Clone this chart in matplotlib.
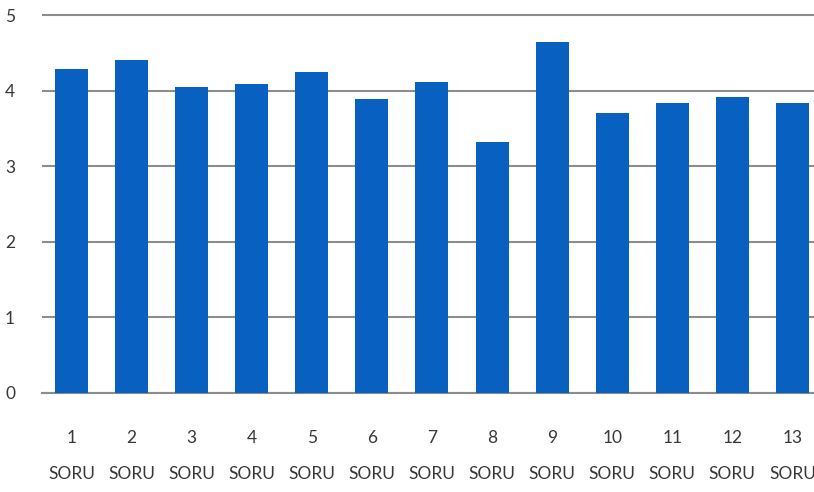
import matplotlib
matplotlib.use("Agg")
import matplotlib.pyplot as plt

# question labels and mean scores
questions = ["1", "2", "3", "4", "5", "6", "7", "8", "9", "10", "11", "12", "13"]
scores = [4.28, 4.40, 4.05, 4.09, 4.24, 3.89, 4.12, 3.32, 4.65, 3.70, 3.83, 3.92, 3.83]
y_ticks = [0, 1, 2, 3, 4, 5]

plt.rcParams['font.family'] = ['Lato', 'DejaVu Sans']

fig = plt.figure(figsize=(8.14, 4.92), dpi=100)
# axes placed so that the chart is cut off at the right edge like the original
ax = fig.add_axes([41.5 / 814, 1 - 392.5 / 492, 1 - 41.5 / 814, 392.5 / 492])

x = range(len(questions))
ax.bar(x, scores, width=0.55, color="#0860C0", zorder=3)

ax.set_xlim(-0.5, 12.36)
ax.set_ylim(0, 5.2)
ax.set_yticks(y_ticks)
ax.set_yticklabels([str(t) for t in y_ticks])
ax.yaxis.grid(True, color="#8c8c8c", linewidth=1.5, zorder=0)
ax.set_axisbelow(True)

ax.set_xticks(list(x))
ax.set_xticklabels([q + "\nSORU" for q in questions])
for lbl in ax.get_xticklabels():
    lbl.set_linespacing(2.55)

ax.tick_params(axis="both", length=0, labelsize=12.5, colors="#383838")
ax.tick_params(axis="y", pad=19)
ax.tick_params(axis="x", pad=27)

for side in ["top", "right", "left"]:
    ax.spines[side].set_visible(False)
ax.spines["bottom"].set_color("#8c8c8c")
ax.spines["bottom"].set_linewidth(1.5)

fig.savefig("out.png", dpi=100)
